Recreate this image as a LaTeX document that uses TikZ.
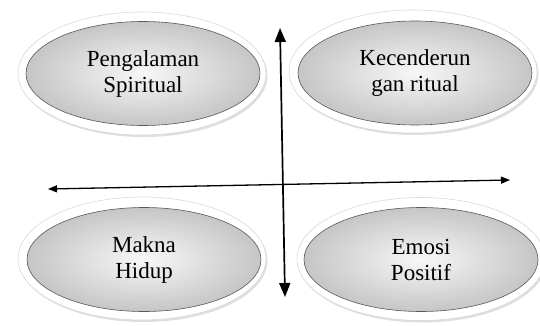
\documentclass[tikz,border=0pt]{standalone}
\usepackage{fontspec}
\setmainfont{Liberation Serif}
\usetikzlibrary{shapes.geometric,arrows.meta,shadows}
\begin{document}
\begin{tikzpicture}[x=1pt,y=-1pt,
  ring/.style={ellipse,minimum width=248pt,minimum height=123pt,inner sep=0pt,
    fill=white,draw=gray!30,line width=0.6pt,
    drop shadow={opacity=0.35,shadow xshift=1.5pt,shadow yshift=-2pt,fill=gray!70}},
  core/.style={ellipse,minimum width=234pt,minimum height=104pt,inner sep=0pt,
    shading=radial,inner color=gray!6,outer color=gray!45,draw=gray!70!black,line width=0.6pt,
    align=center,font=\fontsize{23}{26}\selectfont,text=black},
  bigarrow/.style={line width=1.7pt,{Triangle[length=14pt,width=11pt]}-{Triangle[length=14pt,width=11pt]}},
  smallarrow/.style={line width=1.3pt,{Triangle[length=9pt,width=7pt]}-{Triangle[length=9pt,width=7pt]}}]
\useasboundingbox[fill=white] (0,0) rectangle (540,326);
% ellipses
\node[ring] (r1) at (142,73.5) {};
\node[core] (e1) at (143,73.5) {Pengalaman\\Spiritual};
\node[ring] (r2) at (413,71.5) {};
\node[core] (e2) at (415,73) {Kecenderun\\gan ritual};
\node[ring] (r3) at (142,258.5) {};
\node[core] (e3) at (144,259.5) {Makna\\Hidup};
\node[ring] (r4) at (421,259) {};
\node[core] (e4) at (421,259.5) {Emosi\\Positif};
% axes
\coordinate (vt) at (280,28);
\coordinate (vb) at (285,297);
\coordinate (hl) at (48,189);
\coordinate (hr) at (510,180);
\draw[smallarrow] (hl) -- (hr);
\draw[bigarrow] (vt) -- (vb);
\end{tikzpicture}
\end{document}
